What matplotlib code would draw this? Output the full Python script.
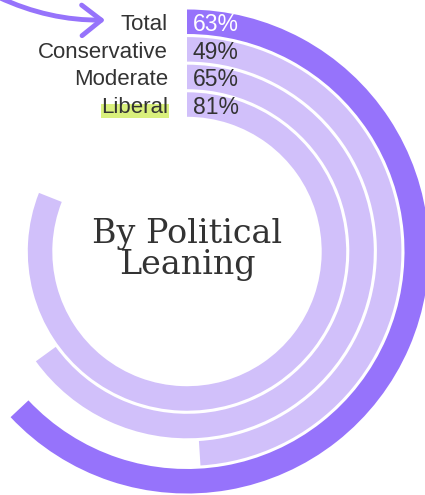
import matplotlib.pyplot as plt
from matplotlib.patches import Wedge, Rectangle

# data, outer ring first
groups = ["Total", "Conservative", "Moderate", "Liberal"]
shares = [63, 49, 65, 81]
ring_colors = ["#9673fb", "#d1c0fa", "#d1c0fa", "#d1c0fa"]
pct_colors = ["white", "#333333", "#333333", "#333333"]

W, H = 425, 495
cx, cy = 187, 251.5
r_outer = 242
step = 27.6
band = 24.5

fig = plt.figure(figsize=(W / 100, H / 100), dpi=100)
ax = fig.add_axes([0, 0, 1, 1])
ax.set_xlim(0, W)
ax.set_ylim(H, 0)  # pixel-like coordinates, y goes down
ax.set_aspect("equal")
ax.axis("off")

sans = ["Liberation Sans", "DejaVu Sans"]

for i, (name, val) in enumerate(zip(groups, shares)):
    r = r_outer - i * step
    # y axis is flipped, so going counter-clockwise in data = clockwise on screen
    w = Wedge((cx, cy), r, -90, -90 + 360 * val / 100, width=band,
              facecolor=ring_colors[i], edgecolor="none")
    ax.add_patch(w)
    y_base = cy - r + band / 2 + 8.5
    ax.text(cx - 19, y_base, name, ha="right", va="baseline",
            fontsize=16, color="#333333", family=sans, zorder=3)
    ax.text(cx + 6, y_base + 1, f"{val}%", ha="left", va="baseline",
            fontsize=16.5, color=pct_colors[i], family=sans, zorder=3)

# highlight behind "Liberal"
ax.add_patch(Rectangle((101, 104), 68, 14, facecolor="#d9f07c",
                       edgecolor="none", zorder=2))

# hand drawn style arrow towards "Total"
ax.annotate("", xy=(108, 20), xytext=(-4, -4),
            arrowprops=dict(arrowstyle="->,head_length=1.4,head_width=1.1",
                            color="#9673fb", lw=3.5, capstyle="round",
                            joinstyle="round",
                            connectionstyle="arc3,rad=0.12"),
            annotation_clip=False)

# title in the middle
serif = ["DejaVu Serif"]
ax.text(cx, 243, "By Political", ha="center", va="baseline",
        fontsize=24, color="#333333", family=serif)
ax.text(cx, 274, "Leaning", ha="center", va="baseline",
        fontsize=24, color="#333333", family=serif)

fig.savefig("out.png", dpi=100)
